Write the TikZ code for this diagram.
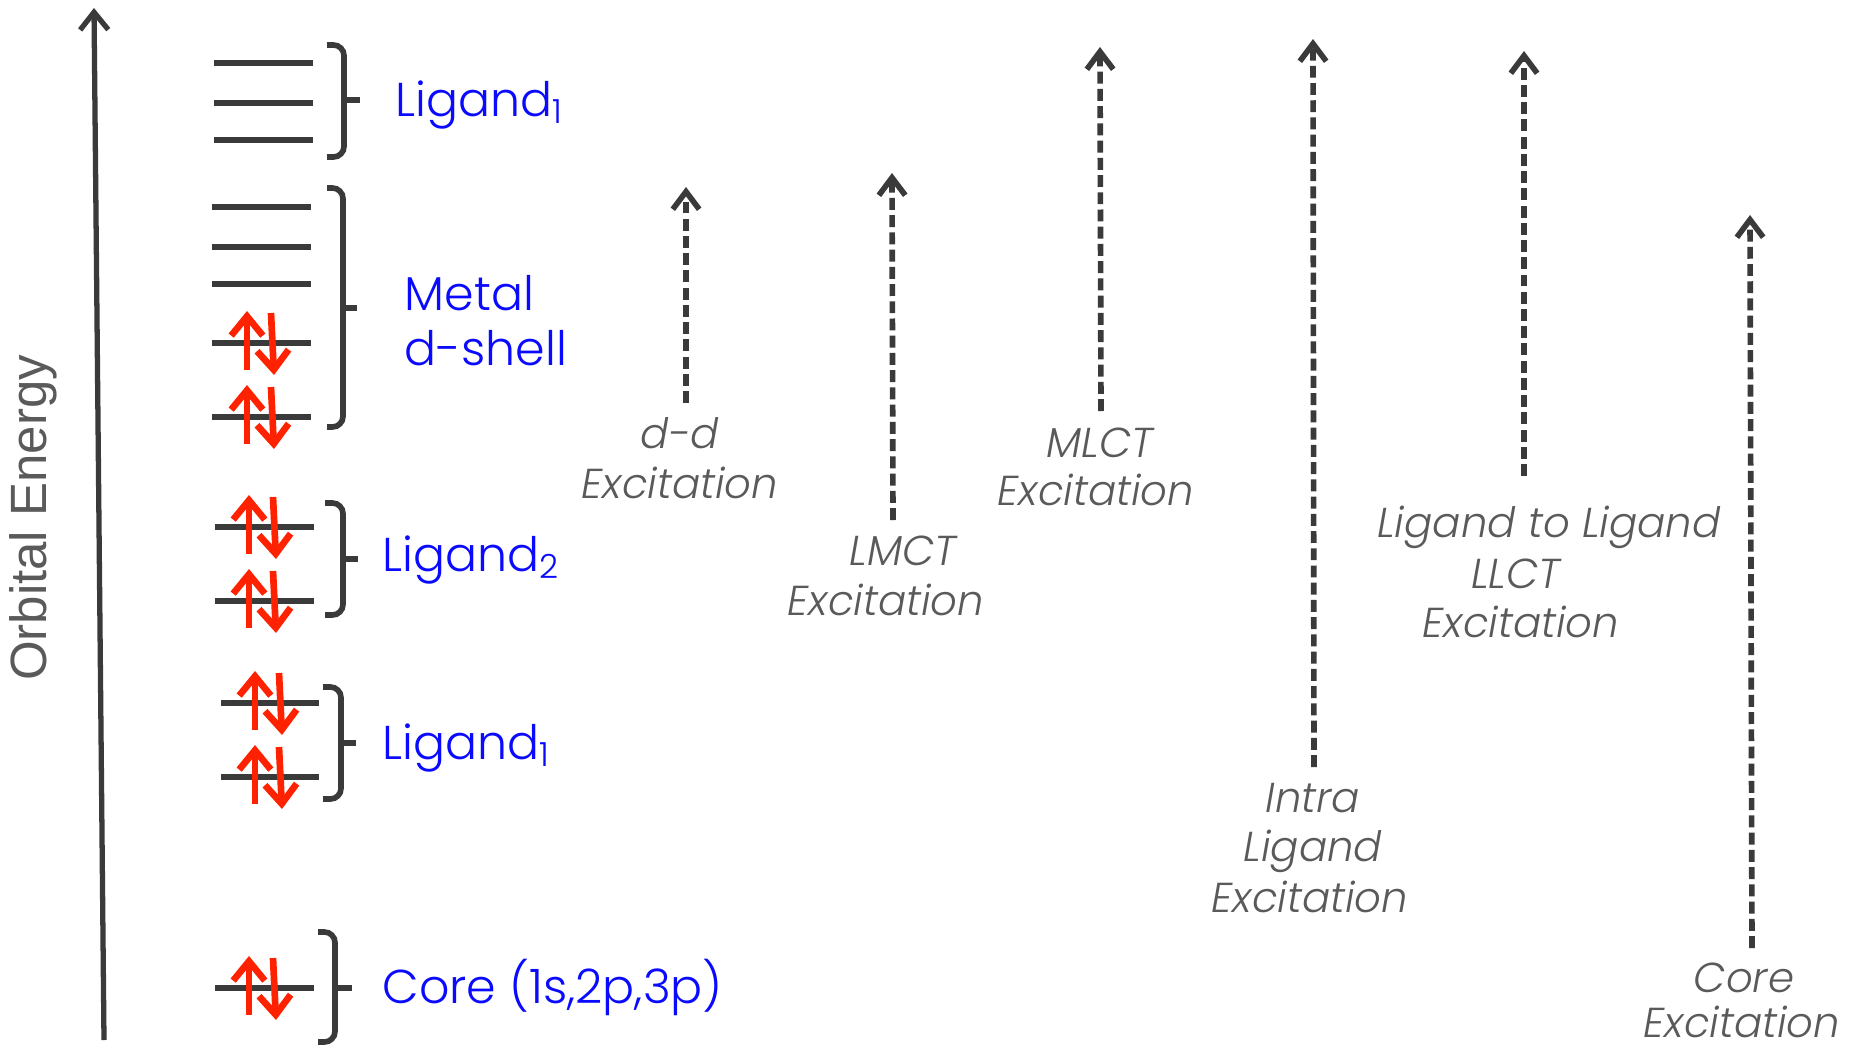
\documentclass[tikz,border=0pt]{standalone}
\usepackage{fontspec}
\setmainfont{Poppins Light}[ItalicFont={Poppins Light Italic}]
\newfontfamily\axisfont{Liberation Sans}
\usetikzlibrary{arrows.meta}
\definecolor{lvl}{HTML}{3A3A3A}
\definecolor{ered}{HTML}{FF2200}
\definecolor{lblue}{HTML}{0A0AFF}
\definecolor{tgray}{HTML}{5A5A5A}
\newcommand\epair[2]{%
  \draw[spin] (#1,#2+27) -- (#1,#2-32);
  \draw[spin] (#1+24,#2-30) -- (#1+27,#2+32);}
\newcommand\bracketshape[6]{% x1 x2 top bottom xtip ymid
  \draw[brk] (#1,#3) -- (#2,#3) -- (#2,#4) -- (#1,#4);
  \draw[brk] (#2,#6) -- (#5,#6);}
\begin{document}
\begin{tikzpicture}[x=0.01cm,y=-0.01cm,
  level/.style={draw=lvl, line width=1.7pt},
  brk/.style={draw=lvl, line width=1.6pt, rounded corners=3pt},
  spin/.style={draw=ered, line width=1.9pt, -{Straight Barb[length=5.5pt,width=9pt]}},
  exc/.style={draw=lvl, line width=1.6pt, dash pattern=on 3.4pt off 1.5pt, -{Straight Barb[length=5pt,width=7.5pt]}},
  axisarrow/.style={draw=lvl, line width=1.5pt, -{Straight Barb[length=5pt,width=8pt]}},
  blbl/.style={text=lblue, font=\fontsize{13.5}{16}\selectfont, inner sep=0pt, anchor=base west},
  glbl/.style={text=tgray, font=\fontsize{11.9}{14}\selectfont\itshape, inner sep=0pt, anchor=base},
]
\useasboundingbox (0,0) rectangle (1850,1048);

% energy axis
\coordinate (ax0) at (104,1040);
\coordinate (ax1) at (94,8);
\draw[axisarrow] (ax0) -- (ax1);
\node[rotate=90, text=tgray, inner sep=0pt, font=\axisfont\fontsize{14.5}{16}\selectfont] (axlbl) at (33,518) {Orbital Energy};

% top Ligand1 (empty)
\foreach \y in {63,103,140} \draw[level] (214,\y) -- (313,\y);
\bracketshape{327}{344}{45}{157}{360}{100}
\node[blbl] (lig1top) at (395,116) {Ligand\textsubscript{1}};

% metal d-shell
\foreach \y in {207,247,284,343,417} \draw[level] (212,\y) -- (311,\y);
\epair{247}{343}
\epair{247}{417}
\bracketshape{327}{343}{188}{427}{357}{308}
\node[blbl] (metal) at (404,310) {Metal};
\node[blbl] (dshell) at (404,365) {d-shell};

% Ligand2
\foreach \y in {527,601} \draw[level] (215,\y) -- (314,\y);
\epair{249}{527}
\epair{249}{601}
\bracketshape{325}{343}{503}{615}{358}{559}
\node[blbl] (lig2) at (382,571) {Ligand\textsubscript{2}};

% lower Ligand1
\foreach \y in {703,777} \draw[level] (221,\y) -- (319,\y);
\epair{255}{703}
\epair{255}{777}
\bracketshape{323}{341}{687}{799}{356}{743}
\node[blbl] (lig1low) at (382,759) {Ligand\textsubscript{1}};

% core
\draw[level] (215,988) -- (314,988);
\epair{249}{988}
\bracketshape{318}{335}{932}{1042}{352}{988}
\node[blbl] (core) at (382,1003) {Core (1s,2p,3p)};

% excitations
\coordinate (dd0) at (686,403); \coordinate (dd1) at (686,187);
\draw[exc] (dd0) -- (dd1);
\node[glbl] (ddA) at (680,448) {d-d};
\node[glbl] (ddB) at (680,498) {Excitation};

\coordinate (lm0) at (893,520); \coordinate (lm1) at (892,173);
\draw[exc] (lm0) -- (lm1);
\node[glbl] (lmA) at (903,565) {LMCT};
\node[glbl] (lmB) at (886,615) {Excitation};

\coordinate (ml0) at (1101,411); \coordinate (ml1) at (1100,47);
\draw[exc] (ml0) -- (ml1);
\node[glbl] (mlA) at (1100,457) {MLCT};
\node[glbl] (mlB) at (1096,505) {Excitation};

\coordinate (il0) at (1314,767); \coordinate (il1) at (1313,39);
\draw[exc] (il0) -- (il1);
\node[glbl] (ilA) at (1313,812) {Intra};
\node[glbl] (ilB) at (1313,861) {Ligand};
\node[glbl] (ilC) at (1310,912) {Excitation};

\coordinate (ll0) at (1524,476); \coordinate (ll1) at (1524,51);
\draw[exc] (ll0) -- (ll1);
\node[glbl] (llA) at (1549,537) {Ligand to Ligand};
\node[glbl] (llB) at (1516,588) {LLCT};
\node[glbl] (llC) at (1521,637) {Excitation};

\coordinate (co0) at (1752,948); \coordinate (co1) at (1750,215);
\draw[exc] (co0) -- (co1);
\node[glbl] (coA) at (1744,992) {Core};
\node[glbl] (coB) at (1742,1037) {Excitation};
\end{tikzpicture}
\end{document}
